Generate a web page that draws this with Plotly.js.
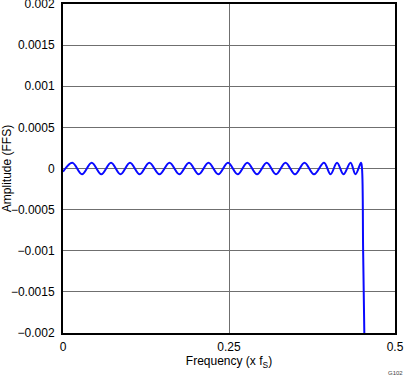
<!DOCTYPE html>
<html>
<head>
<meta charset="utf-8">
<script src="https://cdn.plot.ly/plotly-3.0.1.min.js"></script>
<style>html,body{margin:0;padding:0;background:#fff;}#chart{width:408px;height:377px;}</style>
</head>
<body>
<div id="chart"></div>
<script>
// Frequency (x fS): start, peaks/troughs of the ripple, then the band-edge drop
const freq = [0.0000, 0.0140, 0.0286, 0.0432, 0.0577, 0.0723, 0.0866, 0.1009, 0.1155, 0.1300,
  0.1453, 0.1604, 0.1752, 0.1898, 0.2044, 0.2191, 0.2339, 0.2485, 0.2631, 0.2776,
  0.2922, 0.3068, 0.3208, 0.3351, 0.3494, 0.3637, 0.3780, 0.3931, 0.4029, 0.4127,
  0.4224, 0.4330, 0.4405, 0.4488, 0.4503, 0.4520, 0.4538];
// Amplitude (FFS)
const amp = [-0.00004, 0.00007, -0.00007, 0.00007, -0.00007, 0.00007, -0.00007, 0.00007, -0.00007, 0.00007,
  -0.00007, 0.00007, -0.00007, 0.00007, -0.00007, 0.00007, -0.00007, 0.00007, -0.00007, 0.00007,
  -0.00007, 0.00007, -0.00007, 0.00007, -0.00007, 0.00007, -0.00007, 0.00007, -0.00007, 0.00007,
  -0.00007, 0.00007, -0.00007, 0.00007, 0.0000, -0.0010, -0.0020];

const xTickVals = [0, 0.25, 0.5];
const xTickText = ["0", "0.25", "0.5"];
const yTickVals = [-0.002, -0.0015, -0.001, -0.0005, 0, 0.0005, 0.001, 0.0015, 0.002];
const yTickText = ["\u22120.002", "\u22120.0015", "\u22120.001", "\u22120.0005", "0", "0.0005", "0.001", "0.0015", "0.002"];

const font = {family: "Liberation Sans, Arial, sans-serif", size: 12, color: "#000"};

Plotly.newPlot("chart", [{
  x: freq, y: amp, type: "scatter", mode: "lines",
  line: {color: "#0a0aff", width: 2, shape: "spline", smoothing: 1},
  hoverinfo: "skip"
}], {
  width: 408, height: 377,
  margin: {l: 63, r: 13, t: 4, b: 44},
  paper_bgcolor: "#fff", plot_bgcolor: "#fff",
  font: font,
  showlegend: false,
  xaxis: {
    range: [0, 0.5], tickvals: xTickVals, ticktext: xTickText,
    showgrid: true, gridcolor: "#6f6f6f", gridwidth: 1, zeroline: false,
    showline: true, linecolor: "#000", linewidth: 2, mirror: true,
    ticks: "", ticklabelstandoff: 2, ticklabeloverflow: "allow",
    title: {text: "Frequency (x f<sub>S</sub>)", font: font, standoff: 0}
  },
  yaxis: {
    range: [-0.002, 0.002], tickvals: yTickVals, ticktext: yTickText,
    showgrid: true, gridcolor: "#6f6f6f", gridwidth: 1, zeroline: false,
    showline: true, linecolor: "#000", linewidth: 2, mirror: true,
    ticks: "", ticklabelstandoff: 4, ticklabeloverflow: "allow",
    title: {text: "Amplitude (FFS)", font: font, standoff: 4}
  },
  annotations: [{
    text: "G102", xref: "paper", yref: "paper", x: 1.03, y: -0.105,
    xanchor: "right", yanchor: "top", showarrow: false,
    font: {family: "Liberation Sans, Arial, sans-serif", size: 6, color: "#444"}
  }]
}, {staticPlot: true, displayModeBar: false});
</script>
</body>
</html>
